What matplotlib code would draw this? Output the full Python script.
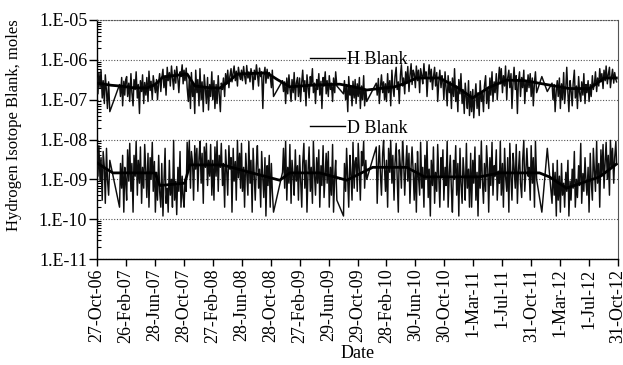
import matplotlib
matplotlib.use("Agg")
import matplotlib.pyplot as plt
import matplotlib.ticker as mticker
from matplotlib.lines import Line2D
import numpy as np
import pandas as pd

plt.rcParams['font.family'] = ['Liberation Serif', 'DejaVu Serif']

START_DATE = "2006-10-27"

# days between consecutive samples (shared by both series)
STEP_DAYS = [
    0, 4, 4, 5, 4, 5, 4, 5, 4, 5, 4, 5, 5, 41, 4, 5, 4, 5, 4, 4,
    4, 4, 5, 4, 5, 4, 5, 4, 5, 4, 5, 4, 5, 4, 5, 4, 5, 4, 5, 4, 5, 4, 5, 4, 5, 4, 5,
    4, 5, 4, 5, 4, 5, 4, 5, 4, 5, 4, 5, 4, 5, 4, 5, 4, 5, 4, 5, 4, 5, 4, 5, 4, 5, 4,
    4, 4, 5, 4, 5, 4, 5, 4, 5, 4, 5, 4, 5, 4, 5, 4, 5, 4, 5, 4, 5, 4, 5, 4, 5, 4, 5,
    4, 5, 4, 5, 4, 5, 4, 5, 4, 5, 4, 5, 4, 5, 4, 5, 4, 5, 4, 5, 4, 5, 4, 5, 4, 5, 4,
    4, 4, 5, 4, 5, 4, 5, 4, 5, 4, 5, 4, 5, 4, 5, 4, 5, 4, 5, 4, 5, 4, 5, 4, 5, 4, 5,
    4, 5, 4, 5, 38, 4, 5, 4, 5, 4, 5, 4, 5, 4, 5, 4, 5, 4, 5,
    4, 5, 4, 5, 4, 5, 4, 5, 4, 5, 4, 5, 4, 5, 4, 5, 4, 5, 4, 5, 4, 5, 4, 5, 4, 5, 4,
    4, 5, 4, 5, 4, 5, 4, 5, 4, 5, 28, 4, 5, 4, 5, 4, 5, 4, 5, 4, 5, 4,
    4, 5, 4, 5, 4, 5, 4, 5, 4, 5, 4, 40, 4, 5, 4, 5, 4, 5, 4, 4,
    4, 4, 5, 4, 5, 4, 5, 4, 5, 4, 5, 4, 5, 4, 5, 4, 5, 4, 5, 4, 5, 4, 5, 4, 5, 4, 5,
    4, 5, 4, 5, 4, 5, 4, 5, 4, 5, 4, 5, 4, 5, 4, 5, 4, 5, 4, 5, 4, 5, 4, 5, 4, 5, 4,
    4, 4, 5, 4, 5, 4, 5, 4, 5, 4, 5, 4, 5, 4, 5, 4, 5, 4, 5, 4, 5, 4, 5, 4, 5, 4, 5,
    4, 5, 4, 5, 4, 5, 4, 5, 4, 5, 4, 5, 4, 5, 4, 5, 4, 5, 4, 5, 4, 5, 4, 5, 4, 5, 4,
    4, 4, 5, 4, 5, 4, 5, 4, 5, 4, 5, 4, 5, 4, 5, 4, 5, 4, 5, 4, 5, 4, 5, 4, 5, 4, 5,
    4, 5, 4, 5, 4, 5, 4, 5, 22, 23, 20, 4, 5, 4, 5, 4,
    4, 5, 4, 5, 4, 5, 4, 5, 4, 5, 4, 5, 4, 5, 4, 5, 4, 5, 4, 5, 4, 5, 4, 5, 4, 5, 4,
    4, 5, 4, 5, 4, 5, 4, 5, 4, 5, 4, 5, 4, 5, 4, 5, 4, 5, 4, 5, 4, 5, 4, 5, 4, 5, 4, 5, 3,
]

# H blank, units of 1e-7 moles
H_BLANK_E7 = [
    3.5, 1.4, 4.8, 2.0, 5.5, 1.1, 3.0, 0.8, 4.2, 1.6, 0.6, 2.8, 0.5, 2.4, 1.2, 3.6, 0.7, 2.9, 1.3, 3.2,
    3.8, 1.2, 2.6, 0.9, 4.5, 1.5, 0.7, 3.2, 1.8, 5.0, 1.1, 2.4, 0.45, 3.0, 1.6, 4.2, 0.8, 2.7, 1.3, 3.6, 0.9, 5.2, 1.7, 2.9, 1.0, 4.0, 2.2,
    1.5, 3.2, 1.0, 2.8, 4.5, 1.6, 3.5, 5.8, 2.0, 4.0, 1.3, 6.5, 3.0, 4.8, 2.2, 7.0, 3.6, 1.8, 5.5, 2.6, 6.8, 3.2, 1.5, 5.0, 3.8, 7.5, 2.5,
    5.5, 3.0, 6.2, 2.0, 0.9, 3.5, 0.6, 4.8, 1.2, 2.5, 0.45, 5.5, 1.5, 3.2, 0.7, 6.0, 1.0, 2.8, 0.5, 4.2, 1.8, 0.8, 3.6, 0.55, 2.4, 1.2, 5.0,
    1.0, 3.0, 0.6, 2.4, 0.8, 4.0, 1.4, 0.5, 2.6, 1.8, 3.5, 1.2, 4.5, 2.5, 5.5, 2.0, 3.8, 6.0, 2.8, 4.8, 7.0, 3.0, 5.2, 2.2, 6.5, 4.0, 3.2,
    5.5, 3.0, 6.8, 4.0, 2.5, 7.2, 3.5, 5.0, 2.8, 6.0, 4.2, 1.8, 5.5, 3.2, 7.5, 4.5, 2.2, 6.2, 3.8, 5.0, 0.6, 4.0, 6.5, 2.6, 5.8, 3.4, 4.8,
    4.0, 2.0, 5.5, 1.2, 3.0, 1.6, 2.8, 0.8, 3.5, 1.4, 4.2, 2.0, 0.9, 3.2, 1.5, 4.8, 1.0, 2.6, 3.6,
    1.2, 3.5, 0.9, 2.8, 5.5, 1.6, 3.0, 0.7, 4.2, 2.0, 1.1, 3.8, 2.4, 6.0, 1.5, 2.6, 0.8, 3.2, 1.8, 4.5, 1.3, 2.9, 0.6, 3.6, 2.2, 5.0, 1.4,
    3.0, 1.2, 4.0, 1.8, 2.6, 0.9, 3.5, 1.5, 5.0, 2.2, 1.4, 3.0, 1.0, 2.4, 0.5, 3.8, 1.3, 2.0, 0.7, 2.9, 1.1, 3.2,
    0.8, 2.5, 1.2, 3.6, 0.6, 2.2, 1.0, 4.0, 0.7, 1.8, 0.9, 2.6, 1.3, 3.4, 0.8, 2.2, 4.2, 1.5, 2.8, 1.0,
    2.5, 0.9, 4.5, 1.5, 3.0, 0.7, 5.5, 2.0, 1.2, 3.8, 6.5, 1.8, 2.8, 0.8, 4.2, 7.5, 2.2, 3.5, 1.4, 5.0, 2.6, 6.8, 1.6, 4.0, 8.0, 2.4, 5.5,
    4.5, 2.0, 7.0, 3.0, 5.5, 1.5, 6.0, 4.0, 2.5, 8.0, 3.5, 5.0, 1.2, 4.2, 7.5, 2.8, 5.8, 1.8, 3.6, 6.5, 2.2, 4.8, 0.9, 3.0, 5.5, 2.0, 4.0,
    3.0, 1.0, 5.0, 2.0, 0.7, 4.0, 1.5, 2.8, 0.6, 3.5, 1.2, 6.0, 0.9, 2.2, 0.5, 3.2, 1.4, 4.5, 0.8, 1.8, 0.45, 2.6, 1.1, 0.6, 3.0, 0.4, 1.6,
    0.5, 1.8, 0.35, 1.2, 2.5, 0.6, 1.5, 0.4, 3.0, 0.9, 1.6, 0.5, 2.2, 4.0, 0.8, 1.9, 0.6, 3.5, 1.3, 5.0, 0.9, 2.8, 1.5, 4.5, 1.0, 3.2, 6.5,
    2.5, 6.0, 1.5, 4.0, 2.2, 7.0, 1.0, 3.5, 5.5, 2.0, 4.5, 0.6, 3.0, 6.5, 1.8, 4.0, 0.45, 2.8, 5.0, 1.2, 3.6, 2.0, 5.5, 0.8, 3.0, 1.6, 4.2,
    2.0, 4.5, 1.2, 3.5, 0.7, 2.8, 5.0, 1.5, 3.8, 1.6, 2.6, 1.0, 2.4, 0.5, 1.8, 3.0,
    1.2, 3.5, 0.6, 2.5, 1.0, 4.8, 0.8, 2.0, 6.5, 1.4, 0.5, 3.0, 1.8, 0.7, 2.6, 5.5, 1.1, 2.2, 0.6, 3.8, 1.5, 0.9, 2.8, 1.3, 4.5, 0.8, 2.4,
    1.5, 3.0, 0.9, 2.4, 1.2, 4.0, 1.8, 2.6, 5.0, 1.6, 3.5, 2.2, 6.0, 2.8, 4.5, 1.9, 5.5, 3.0, 7.0, 2.5, 4.2, 6.5, 2.0, 3.8, 5.8, 2.6, 4.8, 3.2, 2.8,
]

# D blank, units of 1e-9 moles
D_BLANK_E9 = [
    4.5, 1.2, 7.0, 0.9, 3.5, 0.3, 5.0, 2.0, 0.25, 6.0, 1.0, 0.4, 3.0, 0.2, 2.5, 0.6, 4.0, 0.15, 2.0, 0.9,
    0.3, 5.5, 0.9, 8.0, 0.5, 2.5, 0.15, 4.0, 1.2, 9.0, 0.4, 3.0, 0.8, 6.5, 0.25, 2.0, 0.6, 7.5, 1.5, 0.35, 4.5, 0.2, 3.5, 1.0, 8.5, 0.5, 2.8,
    0.15, 1.5, 0.3, 4.0, 0.5, 0.2, 2.5, 0.12, 0.8, 6.0, 0.25, 0.6, 0.15, 3.0, 0.4, 1.0, 0.2, 9.5, 0.3, 0.9, 0.13, 2.0, 0.5, 5.0, 0.2, 1.2, 0.35,
    0.2, 1.0, 0.5, 8.5, 1.5, 9.5, 0.6, 5.0, 2.5, 0.3, 7.0, 1.8, 6.0, 0.5, 3.5, 9.0, 0.8, 4.5, 0.25, 6.5, 2.0, 8.0, 0.7, 3.0, 1.2, 7.5, 0.4,
    3.0, 0.3, 6.5, 1.2, 9.0, 0.5, 4.0, 2.0, 8.0, 0.7, 2.5, 0.2, 5.5, 1.5, 0.4, 7.0, 1.8, 3.5, 0.15, 6.0, 0.9, 2.8, 0.3, 9.5, 1.1, 4.5, 0.6,
    8.0, 0.5, 2.0, 0.2, 4.5, 1.5, 0.4, 9.0, 0.8, 3.0, 0.15, 6.0, 1.2, 0.3, 2.5, 7.0, 0.6, 1.8, 0.2, 5.0, 1.0, 0.35, 3.5, 0.12, 2.2, 0.7, 4.0,
    0.2, 2.5, 0.5, 0.15, 1.5, 6.0, 0.6, 9.0, 0.3, 2.0, 0.8, 7.5, 0.25, 3.0, 1.2, 0.4, 5.5, 0.9, 2.2,
    0.3, 4.0, 1.0, 0.2, 2.5, 8.0, 0.6, 3.0, 0.15, 1.8, 6.5, 0.5, 2.0, 0.25, 9.0, 1.2, 0.4, 3.5, 0.8, 5.5, 0.2, 2.2, 0.7, 7.0, 0.35, 1.5, 4.5,
    0.8, 5.0, 0.2, 2.0, 0.4, 7.5, 0.15, 1.2, 3.0, 0.3, 0.12, 2.5, 0.5, 6.0, 0.9, 0.2, 4.0, 1.5, 0.3, 8.5, 0.6, 2.8,
    3.5, 0.5, 8.0, 1.5, 0.3, 5.0, 2.2, 9.0, 0.6, 3.0, 1.0, 6.5, 0.25, 2.5, 7.0, 1.2, 0.4, 4.5, 9.5, 1.8,
    0.5, 3.0, 0.2, 6.0, 1.5, 9.5, 0.8, 4.0, 0.3, 2.5, 8.0, 1.2, 0.15, 5.5, 2.0, 0.6, 9.0, 3.5, 0.4, 1.8, 7.0, 0.9, 4.5, 0.25, 2.2, 6.5, 1.4,
    0.3, 2.5, 0.15, 5.0, 1.2, 0.4, 8.5, 0.6, 2.0, 0.2, 4.0, 1.0, 9.0, 0.35, 1.8, 0.12, 3.0, 0.7, 6.5, 0.25, 1.5, 0.5, 7.5, 0.9, 0.2, 3.5, 1.1,
    5.5, 0.3, 2.0, 0.7, 9.0, 0.2, 1.5, 4.0, 0.5, 0.15, 3.0, 1.0, 7.0, 0.4, 2.5, 0.12, 6.0, 0.8, 0.25, 3.5, 1.2, 0.3, 8.0, 0.6, 1.8, 0.2, 4.5,
    0.2, 3.0, 0.8, 6.5, 0.3, 1.5, 0.12, 4.0, 0.6, 9.0, 1.0, 0.25, 2.5, 0.5, 7.0, 1.8, 0.15, 3.5, 0.7, 8.5, 0.4, 2.2, 1.2, 5.5, 0.3, 1.6, 0.8,
    9.0, 0.4, 2.5, 0.2, 6.0, 1.2, 0.5, 3.5, 0.15, 8.0, 1.0, 0.3, 4.5, 2.0, 0.6, 7.5, 0.25, 1.5, 5.0, 0.8, 0.35, 3.0, 9.5, 0.5, 1.8, 6.0, 1.2,
    2.0, 0.3, 7.0, 0.8, 3.5, 0.2, 9.0, 1.0, 0.15, 6.0, 0.25, 2.5, 0.4, 1.5, 0.12, 3.0,
    0.3, 1.2, 0.15, 2.5, 0.4, 0.8, 0.2, 1.5, 0.5, 3.0, 0.12, 0.9, 0.3, 1.8, 0.6, 5.0, 0.2, 1.0, 0.35, 2.2, 0.7, 8.0, 0.25, 1.4, 0.5, 3.5, 0.9,
    0.4, 2.0, 0.15, 4.5, 0.9, 0.3, 6.0, 1.5, 0.5, 9.0, 0.8, 2.5, 0.2, 5.5, 1.2, 7.5, 0.6, 3.0, 8.5, 1.0, 4.0, 0.4, 9.5, 2.0, 6.0, 0.8, 3.5, 9.0, 2.5,
]

# moving averages (day offset from start, value)
H_AVG_DAY = [0, 60, 97, 150, 210, 245, 278, 350, 380, 413, 470, 518, 560, 590, 716, 760, 813, 900,
             1023, 1080, 1137, 1255, 1300, 1347, 1444, 1520, 1583, 1650, 1726, 1802, 1886, 1991,
             2075, 2139, 2189]
H_AVG_E7 = [2.6, 2.3, 2.2, 2.0, 1.95, 2.4, 3.7, 4.2, 4.4, 2.2, 2.0, 1.95, 3.0, 4.4, 4.7, 3.2, 2.1, 2.3,
            2.45, 2.1, 1.75, 2.1, 2.6, 3.5, 3.5, 2.0, 1.1, 2.0, 3.1, 3.0, 2.45, 1.9,
            1.9, 3.5, 3.5]
D_AVG_DAY = [0, 35, 67, 244, 265, 370, 391, 530, 644, 770, 813, 939, 1053, 1162, 1305, 1381,
             1612, 1697, 1865, 1907, 1979, 2118, 2189]
D_AVG_E9 = [2.6, 1.9, 1.45, 1.45, 0.7, 0.8, 2.3, 2.3, 1.5, 0.95, 1.45, 1.45, 0.95, 2.0, 2.0, 1.15,
            1.15, 1.45, 1.45, 1.15, 0.6, 1.15, 2.4]

TICK_LABELS = ["27-Oct-06", "26-Feb-07", "28-Jun-07", "28-Oct-07", "27-Feb-08", "28-Jun-08",
               "28-Oct-08", "27-Feb-09", "29-Jun-09", "29-Oct-09", "28-Feb-10", "30-Jun-10",
               "30-Oct-10", "1-Mar-11", "1-Jul-11", "31-Oct-11", "1-Mar-12", "1-Jul-12", "31-Oct-12"]

assert len(STEP_DAYS) == len(H_BLANK_E7) == len(D_BLANK_E9), (len(STEP_DAYS), len(H_BLANK_E7), len(D_BLANK_E9))

start = pd.Timestamp(START_DATE)
dates = start + pd.to_timedelta(np.cumsum(STEP_DAYS), unit='D')
h_vals = np.array(H_BLANK_E7) * 1e-7
d_vals = np.array(D_BLANK_E9) * 1e-9
h_avg_dates = start + pd.to_timedelta(H_AVG_DAY, unit='D')
d_avg_dates = start + pd.to_timedelta(D_AVG_DAY, unit='D')
tick_dates = pd.to_datetime(TICK_LABELS, format="%d-%b-%y")

W, H = 623, 365
fig = plt.figure(figsize=(W / 100, H / 100), dpi=100)
L, R, T, B = 97, 618, 20, 259
ax = fig.add_axes([L / W, (H - B) / H, (R - L) / W, (B - T) / H])

raw_col = '#0d0d0d'
ax.plot(dates, h_vals, color=raw_col, lw=1.05, zorder=3)
ax.plot(dates, d_vals, color=raw_col, lw=1.05, zorder=3)
ax.plot(h_avg_dates, np.array(H_AVG_E7) * 1e-7, color='black', lw=2.0, zorder=4)
ax.plot(d_avg_dates, np.array(D_AVG_E9) * 1e-9, color='black', lw=2.0, zorder=4)

ax.set_yscale('log')
ax.set_ylim(1e-11, 1e-5)
ax.set_xlim(tick_dates[0], tick_dates[-1])

ax.yaxis.set_major_locator(mticker.LogLocator(base=10, numticks=20))
ax.yaxis.set_minor_locator(mticker.LogLocator(base=10, subs=np.arange(2, 10), numticks=20))
ax.yaxis.set_minor_formatter(mticker.NullFormatter())
ax.yaxis.set_major_formatter(mticker.FuncFormatter(lambda v, p: "1.E%+03d" % int(round(np.log10(v)))))
ax.tick_params(axis='y', which='major', direction='out', length=6, width=1, labelsize=13, pad=1)
ax.tick_params(axis='y', which='minor', direction='in', length=3, width=0.8)

ax.set_xticks(tick_dates)
ax.set_xticklabels(TICK_LABELS, rotation=90)
ax.tick_params(axis='x', which='major', direction='out', length=5, width=1, labelsize=13, pad=2)
ax.tick_params(axis='x', which='minor', bottom=False)

ax.yaxis.grid(True, which='major', linestyle=(0, (1, 1.5)), color='#555555', lw=0.8)
ax.set_axisbelow(True)

ax.spines['top'].set_linestyle((0, (1, 1.5)))
ax.spines['top'].set_color('#555555')
ax.spines['top'].set_linewidth(0.8)
ax.spines['right'].set_color('#555555')
ax.spines['left'].set_linewidth(1.0)
ax.spines['bottom'].set_linewidth(1.0)

ax.set_ylabel("Hydrogen Isotope Blank, moles", fontsize=12)
ax.yaxis.set_label_coords(-0.144, 0.559)
ax.set_xlabel("Date", fontsize=13, labelpad=1)

hl = Line2D([], [], color='black', lw=1.0)
leg1 = ax.legend([hl], ["H Blank"], loc='center left', bbox_to_anchor=(0.408, 0.833),
                 frameon=False, fontsize=13, handlelength=1.95, handletextpad=0.15,
                 borderpad=0, borderaxespad=0)
ax.add_artist(leg1)
dl = Line2D([], [], color='black', lw=1.0)
ax.legend([dl], ["D Blank"], loc='center left', bbox_to_anchor=(0.408, 0.548),
          frameon=False, fontsize=13, handlelength=1.95, handletextpad=0.15,
          borderpad=0, borderaxespad=0)

fig.savefig("out.png", dpi=100)
